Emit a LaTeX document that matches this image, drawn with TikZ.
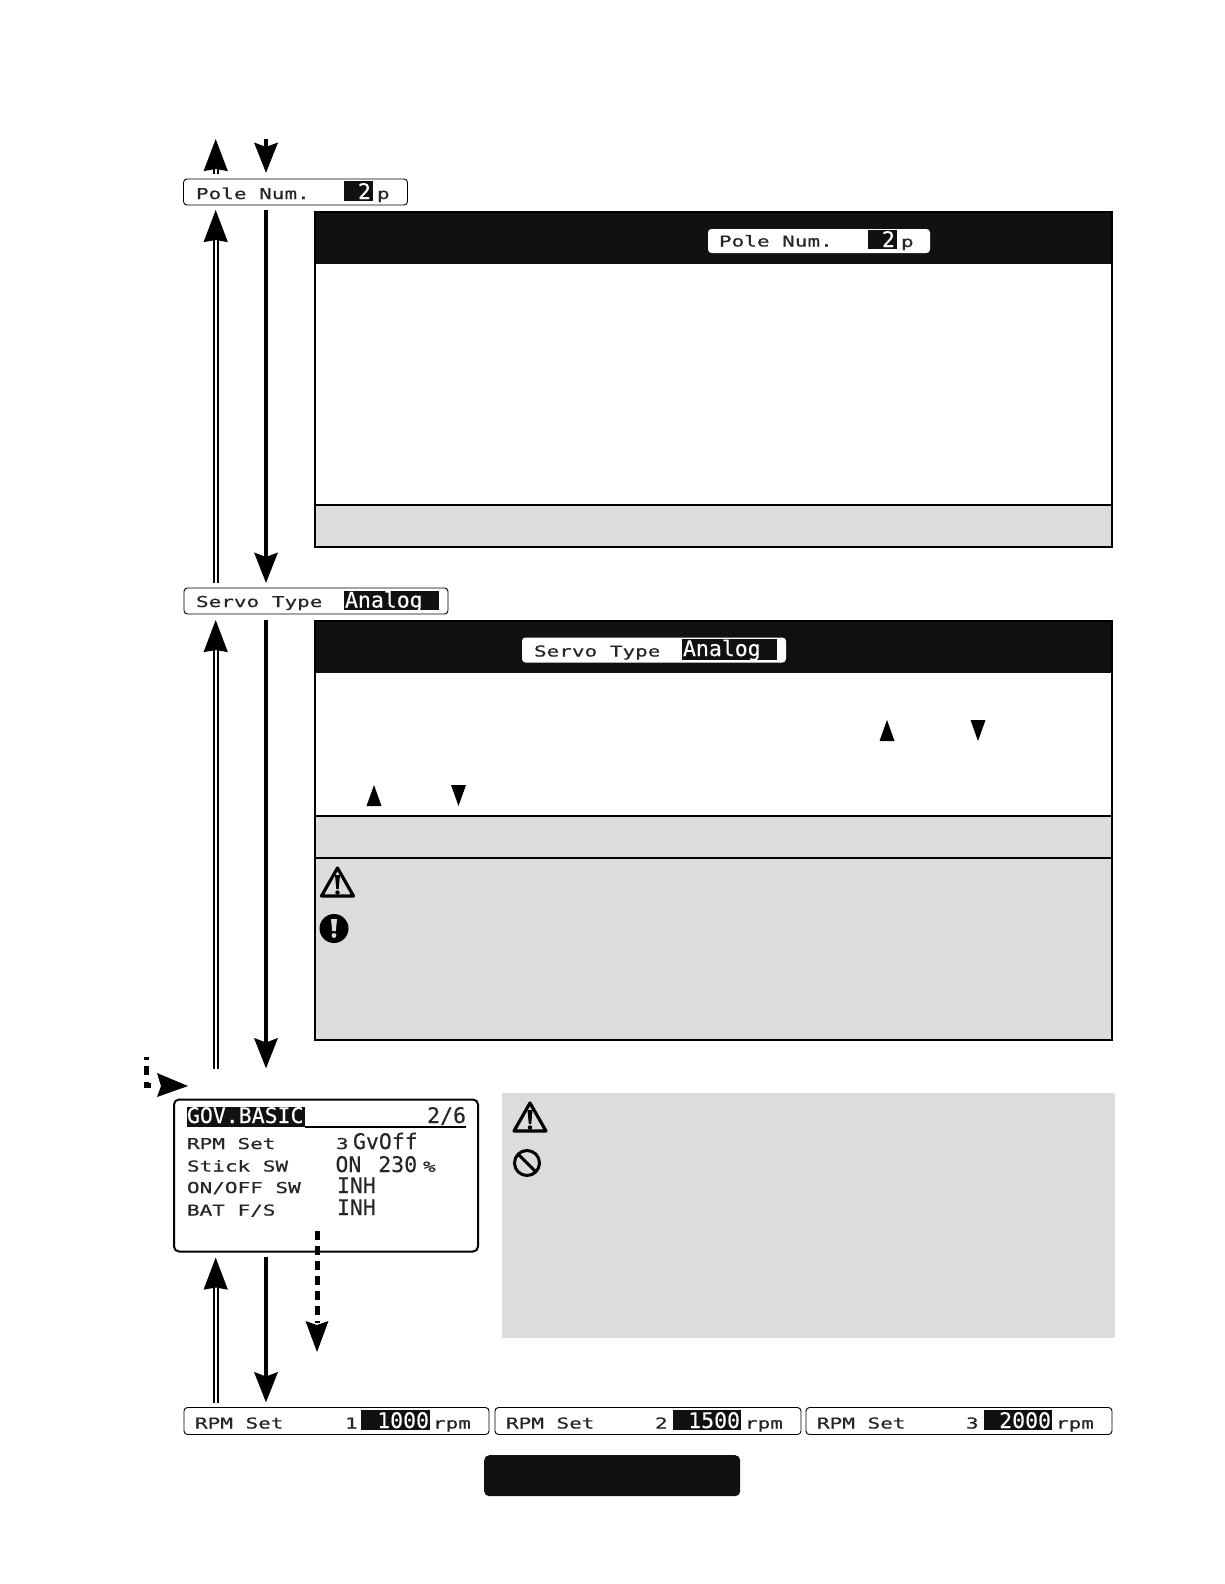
\documentclass[tikz,border=0pt]{standalone}
\usepackage{fontspec}
\usetikzlibrary{arrows.meta}
\newfontfamily\lcdnarrow[FakeBold=0.25]{DejaVu Sans Mono}
\newfontfamily\lcdwide[FakeStretch=1.4,FakeBold=0.6]{DejaVu Sans Mono}
\newcommand{\lcdS}{\lcdwide\fontsize{15}{15}\selectfont}
\newcommand{\lcdB}{\lcdnarrow\fontsize{21.5}{21.5}\selectfont}
\definecolor{ink}{HTML}{111111}
\definecolor{panelgray}{HTML}{DCDCDC}
\tikzset{
  x=1pt,y=-1pt,
  lcdbar/.style={draw=black,line width=0.9pt,rounded corners=3.5pt,fill=white,anchor=north west,inner sep=0pt,outer sep=0pt},
  smalltxt/.style={anchor=base west,inner sep=0pt,outer sep=0pt,font=\lcdS,text=black!85},
  bigtxt/.style={anchor=base west,inner sep=0pt,outer sep=0pt,font=\lcdB,text=black!85},
  invbox/.style={fill=ink,draw=none,anchor=north west,inner sep=0pt,outer sep=0pt},
  headbar/.style={fill=ink,draw=none,anchor=north west,inner sep=0pt,outer sep=0pt},
  panelframe/.style={draw=black,line width=2pt},
  panelrule/.style={draw=black,line width=2pt},
  grayfill/.style={fill=panelgray,draw=none},
  uparrow/.style={draw=black,line width=1.6pt,double=white,double distance=2.4pt,-{Stealth[length=32pt,width=24pt,inset=2pt,fill=black]}},
  downarrow/.style={draw=black,line width=4.8pt,-{Stealth[length=30pt,width=23pt,inset=4pt]}},
  dashdown/.style={draw=black,line width=5pt,dash pattern=on 9pt off 6pt},
  blackhead/.style={fill=black,draw=none},
  smalltri/.style={fill=black,draw=none},
}
\newcommand{\warnicon}[2]{%
  \begin{scope}[shift={(#1,#2)}]
    \draw[line width=3.2pt,line join=round,fill=none] (0,-14) -- (16,14) -- (-16,14) -- cycle;
    \fill (-2.5,-7) -- (2.5,-7) -- (1.2,7) -- (-1.2,7) -- cycle;
    \fill (0,10.5) circle (2.2);
  \end{scope}}
\begin{document}
\begin{tikzpicture}
\useasboundingbox (0,0) rectangle (1224,1584);
\fill[white] (0,0) rectangle (1224,1584);

% column positions
\coordinate (upcol) at (215.7,0);
\coordinate (downcol) at (266,0);
\coordinate (topup) at (215.7,139);
\coordinate (topdown) at (266,139);

% ---------- Pole Num
\node[lcdbar,minimum width=224,minimum height=26] (pole) at (183.5,179) {};
\node[smalltxt] (poletxt) at (196,199) {Pole Num.};
\node[invbox,minimum width=29,minimum height=20] (poleinv) at (344,181) {};
\node[bigtxt,text=white] (poleval) at (358,199) {2};
\node[smalltxt] (poleunit) at (377,199) {p};

% ---------- Panel 1
\fill[white] (315,212) rectangle (1111.5,546.5);
\fill[grayfill] (315,504.5) rectangle (1111.5,546.5);
\node[headbar,minimum width=796.5,minimum height=52] (head1) at (315,212) {};
\draw[panelframe] (315,212) rectangle (1111.5,546.5);
\draw[panelrule] (315,504.5) -- (1111.5,504.5);
\node[lcdbar,draw=none,minimum width=222,minimum height=24] (pole2) at (708,229) {};
\node[smalltxt] (pole2txt) at (719,246.5) {Pole Num.};
\node[invbox,minimum width=29,minimum height=19] (pole2inv) at (868,230) {};
\node[bigtxt,text=white] (pole2val) at (882,247) {2};
\node[smalltxt] (pole2unit) at (901,247) {p};

% ---------- Servo Type
\node[lcdbar,minimum width=264,minimum height=26] (servo) at (184,588) {};
\node[smalltxt] (servotxt) at (196,607) {Servo Type};
\node[invbox,minimum width=95,minimum height=19] (servoinv) at (344,591) {};
\node[bigtxt,text=white] (servoval) at (345,607.5) {Analog};

% ---------- Panel 2
\fill[white] (315,621) rectangle (1111.5,1039.5);
\fill[grayfill] (315,815.5) rectangle (1111.5,1039.5);
\node[headbar,minimum width=796.5,minimum height=52] (head2) at (315,621) {};
\draw[panelframe] (315,621) rectangle (1111.5,1039.5);
\draw[panelrule] (315,815.5) -- (1111.5,815.5);
\draw[panelrule] (315,857.5) -- (1111.5,857.5);
\node[lcdbar,draw=none,minimum width=264,minimum height=25] (servo2) at (522,637.5) {};
\node[smalltxt] (servo2txt) at (534,656.5) {Servo Type};
\node[invbox,minimum width=95,minimum height=21] (servo2inv) at (682,638.5) {};
\node[bigtxt,text=white] (servo2val) at (683,656) {Analog};
\fill[smalltri] (887,720) -- (894.5,741) -- (879.5,741) -- cycle;
\fill[smalltri] (978,741) -- (985.5,720) -- (970.5,720) -- cycle;
\fill[smalltri] (374,785) -- (381.5,806) -- (366.5,806) -- cycle;
\fill[smalltri] (458.5,806) -- (466,785) -- (451,785) -- cycle;
\warnicon{337.5}{882}
\fill (334,928.5) circle (14.5);
\fill[panelgray] (331,919) -- (337,919) -- (335.8,931) -- (332.2,931) -- cycle;
\fill[panelgray] (334,935.5) circle (2.4);

% ---------- GOV.BASIC screen
\node[lcdbar,line width=2pt,rounded corners=5pt,minimum width=304,minimum height=152] (lcd) at (174,1099.5) {};
\node[invbox,minimum width=118,minimum height=20] (titleinv) at (187,1107) {};
\draw[line width=1.2pt] (titleinv.south east) -- (466,1127);
\node[bigtxt,text=white] (title) at (187,1123) {GOV.BASIC};
\node[bigtxt,anchor=base east] (page) at (466,1123) {2/6};
\node[smalltxt] (r1) at (187,1149) {RPM Set};
\node[smalltxt] (r2) at (187,1171.5) {Stick SW};
\node[smalltxt] (r3) at (187,1193) {ON/OFF SW};
\node[smalltxt] (r4) at (187,1215.5) {BAT F/S};
\node[smalltxt] (v1a) at (336,1149) {3};
\node[bigtxt] (v1b) at (353,1149) {GvOff};
\node[bigtxt] (v2a) at (335.5,1172) {ON\hspace{4pt} 230};
\node[smalltxt] (v2b) at (423,1172) {\%};
\node[bigtxt] (v3) at (337,1193) {INH};
\node[bigtxt] (v4) at (337,1215) {INH};

% ---------- Right gray note
\fill[grayfill] (502,1093) rectangle (1115,1337.5);
\warnicon{530}{1117}
\draw[line width=3pt] (527,1163) circle (12.5);
\draw[line width=3pt] (518.2,1154.2) -- (535.8,1171.8);

% ---------- RPM Set bars
\node[lcdbar,minimum width=305,minimum height=27] (rpma) at (184,1407.5) {};
\node[lcdbar,minimum width=306,minimum height=27] (rpmb) at (495,1407.5) {};
\node[lcdbar,minimum width=306,minimum height=27] (rpmc) at (806,1407.5) {};
\node[invbox,minimum width=69,minimum height=20] (inva) at (361,1410) {};
\node[invbox,minimum width=68,minimum height=20] (invb) at (673,1410) {};
\node[invbox,minimum width=68,minimum height=20] (invc) at (984,1410) {};
\node[smalltxt] (ta) at (195,1428.5) {RPM Set};
\node[smalltxt] (tb) at (506,1428.5) {RPM Set};
\node[smalltxt] (tc) at (817,1428.5) {RPM Set};
\node[smalltxt] (na) at (345,1428.5) {1};
\node[smalltxt] (nb) at (655,1428.5) {2};
\node[smalltxt] (nc) at (966,1428.5) {3};
\node[bigtxt,text=white,anchor=base east] (va) at (429,1428) {1000};
\node[bigtxt,text=white,anchor=base east] (vb) at (740,1428) {1500};
\node[bigtxt,text=white,anchor=base east] (vc) at (1051,1428) {2000};
\node[smalltxt] (ua) at (433,1428.5) {rpm};
\node[smalltxt] (ub) at (745,1428.5) {rpm};
\node[smalltxt] (uc) at (1056,1428.5) {rpm};

% ---------- Bottom black tab
\node[fill=ink,draw=none,rounded corners=5pt,anchor=north west,minimum width=256,minimum height=41,inner sep=0pt] (tab) at (484,1455) {};

% ---------- Connectors
\draw[uparrow,shorten <=5pt] (pole.north -| upcol) -- (topup);
\draw[downarrow] (topdown) -- ([yshift=6pt]pole.north -| downcol);
\draw[uparrow,shorten <=5pt,shorten >=5pt] (servo.north -| upcol) -- (pole.south -| upcol);
\draw[downarrow,shorten <=5pt,shorten >=5pt] (pole.south -| downcol) -- (servo.north -| downcol);
\draw[uparrow,shorten <=31pt,shorten >=6pt] (lcd.north -| upcol) -- (servo.south -| upcol);
\draw[downarrow,shorten <=6pt,shorten >=31pt] (servo.south -| downcol) -- (lcd.north -| downcol);
\draw[uparrow,shorten <=5pt,shorten >=6pt] (rpma.north -| upcol) -- (lcd.south -| upcol);
\draw[downarrow,shorten <=5pt,shorten >=5pt] (lcd.south -| downcol) -- (rpma.north -| downcol);

% dashed arrow entering the screen
\coordinate (dashstart) at (146,1057);
\coordinate (dashbend) at (146,1083);
\draw[line width=5pt,dash pattern=on 3pt off 6pt on 9pt off 7pt on 4pt off 0pt] (dashstart) -- (dashbend);
\draw[line width=5pt] (143.5,1085) -- (151,1085);
\fill[blackhead] (188,1086) -- (157,1073) -- (161,1086) -- (157,1097) -- cycle;

% dashed arrow leaving the screen
\coordinate (dropstart) at (317,1231);
\coordinate (dropend) at (317,1323);
\draw[dashdown] (dropstart) -- (dropend);
\fill[blackhead] (317,1352) -- (305.5,1321) -- (317,1325) -- (328.5,1321) -- cycle;
\end{tikzpicture}
\end{document}
